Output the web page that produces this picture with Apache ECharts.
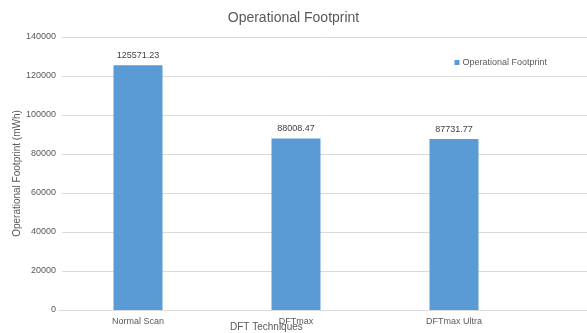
<!DOCTYPE html>
<html><head><meta charset="utf-8">
<script src="https://cdn.jsdelivr.net/npm/echarts@6/dist/echarts.min.js"></script>
<style>html,body{margin:0;padding:0;background:#fff}#c{width:587px;height:333px}</style>
</head><body><div id="c"></div>
<script>
const categories = ['Normal Scan', 'DFTmax', 'DFTmax Ultra'];
const values = [125571.23, 88008.47, 87731.77];
const seriesName = 'Operational Footprint';
const yTicks = { min: 0, max: 140000, interval: 20000 };

const chart = echarts.init(document.getElementById('c'), null, { renderer: 'canvas' });
const font = 'Liberation Sans, Arial, sans-serif';
chart.setOption({
  animation: false,
  backgroundColor: '#fff',
  title: { text: 'Operational Footprint', left: 'center', top: 6,
    textStyle: { fontFamily: font, fontSize: 14, fontWeight: 'normal', color: '#595959' } },
  legend: { data: [seriesName], right: 35, top: 53, itemWidth: 5, itemHeight: 5, itemGap: 4,
    icon: 'rect', textStyle: { fontFamily: font, fontSize: 9, color: '#595959', padding: [0,0,0,-2] } },
  grid: [
    { left: 62, right: 0, top: 37, bottom: 23, outerBoundsMode: 'none', containLabel: false },
    { left: 59, right: 54, top: 37, bottom: 23, outerBoundsMode: 'none', containLabel: false }
  ],
  xAxis: [
    { type: 'category', gridIndex: 0, data: categories, show: false },
    { type: 'category', gridIndex: 1, data: categories,
      axisLine: { lineStyle: { color: '#D9D9D9' } }, axisTick: { show: false },
      axisLabel: { fontFamily: font, fontSize: 9, color: '#595959', margin: 7 } }
  ],
  yAxis: [
    { type: 'value', gridIndex: 0, min: yTicks.min, max: yTicks.max, interval: yTicks.interval,
      axisLabel: { show: false }, axisLine: { show: false }, axisTick: { show: false },
      splitLine: { lineStyle: { color: '#D9D9D9' } } },
    { type: 'value', gridIndex: 1, min: yTicks.min, max: yTicks.max, interval: yTicks.interval,
      name: 'Operational Footprint (mWh)', nameLocation: 'middle', nameGap: 37, nameMoveOverlap: false,
      nameTextStyle: { fontFamily: font, fontSize: 10, color: '#595959' },
      axisLabel: { fontFamily: font, fontSize: 9, color: '#595959', margin: 3, formatter: v => String(v) },
      axisLine: { show: false }, axisTick: { show: false }, splitLine: { show: false } }
  ],
  graphic: [
    { type: 'text', left: 230, top: 322,
      style: { text: 'DFT Techniques', font: '10px ' + font, fill: '#595959' } }
  ],
  series: [
    { name: seriesName, type: 'bar', xAxisIndex: 1, yAxisIndex: 1, data: values, barWidth: 49,
      itemStyle: { color: '#5B9BD5' },
      label: { show: true, position: 'top', distance: 5, fontFamily: font, fontSize: 9, color: '#404040',
        formatter: p => p.value.toFixed(2) } }
  ]
});
</script></body></html>
